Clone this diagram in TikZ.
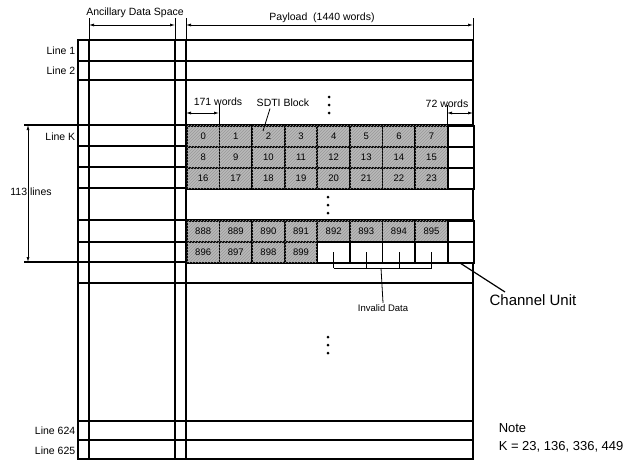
\documentclass[tikz,border=0pt]{standalone}
\usepackage{fontspec}
\setmainfont{Liberation Sans}
\usetikzlibrary{arrows.meta,patterns}

\begin{document}
\begin{tikzpicture}[x=1pt,y=-1pt,line width=1.5pt,
  blk/.style={draw,line width=1.7pt,fill=gray!55,postaction={pattern=north east lines,pattern color=gray!80},minimum width=32.6pt,minimum height=21pt,inner sep=0pt,anchor=north west,font=\fontsize{9.5}{10}\selectfont},
  cell/.style={draw,line width=1.7pt,fill=white,minimum width=32.6pt,minimum height=21pt,inner sep=0pt,anchor=north west},
  lbl/.style={anchor=east,inner sep=1pt,font=\fontsize{10.5}{11}\selectfont},
  txt/.style={inner sep=1pt,font=\fontsize{10.5}{11}\selectfont},
  big/.style={inner sep=1pt,font=\fontsize{13}{14}\selectfont},
  dimarrow/.style={line width=0.7pt,{Latex[length=5pt,width=3pt]}-{Latex[length=5pt,width=3pt]}},
  ext/.style={line width=0.8pt}]
\useasboundingbox (0,0) rectangle (637,461);

% frame and line grid
\draw[line width=2pt] (78,40) rectangle (473,459);
\foreach \x in {89,175,186} \draw (\x,40) -- (\x,459);
\foreach \y in {61,80,146,167,188,220,242,283,421,440} \draw (78,\y) -- (473,\y);
\draw[line width=2.4pt] (24,125) -- (473,125);
\draw[line width=2.4pt] (24,262) -- (473,262);
\foreach \x in {89,175,186,473} \draw[ext] (\x,18) -- (\x,40);
\foreach \x in {219,447} \draw[ext] (\x,105) -- (\x,125);

% blocks
\foreach \n in {0,...,23}{
  \pgfmathtruncatemacro{\c}{mod(\n,8)}
  \pgfmathtruncatemacro{\r}{int(\n/8)}
  \node[blk] (b\n) at (186+32.625*\c,125+21*\r) {\n};
}
\foreach \n [count=\i from 0] in {888,...,895}
  \node[blk] (b\n) at (186+32.625*\i,220) {\n};
\foreach \n [count=\i from 0] in {896,...,899}
  \node[blk] (b\n) at (186+32.625*\i,241) {\n};
\foreach \i in {4,...,7}
  \node[cell] (e\i) at (186+32.625*\i,241) {};
\foreach \y [count=\i] in {125,146,167,220,241}
  \node[cell,minimum width=26pt] (r\i) at (447,\y) {};

% labels
\node[lbl] (l1) at (77,51) {Line 1};
\node[lbl] (l2) at (77,71) {Line 2};
\node[lbl] (lk) at (77,137) {Line K};
\node[lbl] (l624) at (77,431) {Line 624};
\node[lbl] (l625) at (77,451) {Line 625};

\node[txt] (ads) at (135,13) {Ancillary Data Space};
\node[txt] (pay) at (322,18) {Payload\ \ (1440 words)};
\node[txt] (w171) at (218,102) {171 words};
\node[txt] (sdti) at (283,103) {SDTI Block};
\node[txt] (w72) at (447,104) {72 words};
\node[txt,font=\fontsize{9.5}{10}\selectfont] (inv) at (383,308) {Invalid Data};
\node[big,font=\fontsize{15}{16}\selectfont] (chu) at (533,300) {Channel Unit};
\node[big,anchor=west] (note) at (497,428) {Note};
\node[big,anchor=west] (kval) at (497,447) {K = 23, 136, 336, 449};

% dimension arrows
\coordinate (adsL) at (89,25);  \coordinate (adsR) at (175,25);
\coordinate (payL) at (186,25); \coordinate (payR) at (473,25);
\coordinate (w171L) at (186,113); \coordinate (w171R) at (219,113);
\coordinate (w72L) at (447,113); \coordinate (w72R) at (473,113);
\coordinate (linT) at (28,125); \coordinate (linB) at (28,262);
\draw[dimarrow] (adsL) -- (adsR);
\draw[dimarrow] (payL) -- (payR);
\draw[dimarrow] (w171L) -- (w171R);
\draw[dimarrow] (w72L) -- (w72R);
\draw[dimarrow] (linT) -- (linB);
\node[txt] (lines) at (31,192) {113 lines};

% leaders
\coordinate (sdtiE) at (263,131);
\draw[ext] ([xshift=-13pt]sdti.south) -- (sdtiE);
\coordinate (cuA) at (460,263); \coordinate (cuB) at (505,292);
\draw[line width=1.2pt] (cuA) -- (cuB);
\coordinate (brk) at (381,268);
\foreach \i in {4,...,7} \draw[ext] (e\i.center) -- (e\i.center |- brk);
\draw[ext] (e4.center |- brk) -- (e7.center |- brk);
\draw[ext] (brk) -- (inv.north);

% dots
\foreach \y in {97,105,113} \fill (329,\y) circle (1.5pt);
\foreach \y in {197,205,213} \fill (328,\y) circle (1.5pt);
\foreach \y in {337,345,353} \fill (328,\y) circle (1.5pt);
\end{tikzpicture}
\end{document}
